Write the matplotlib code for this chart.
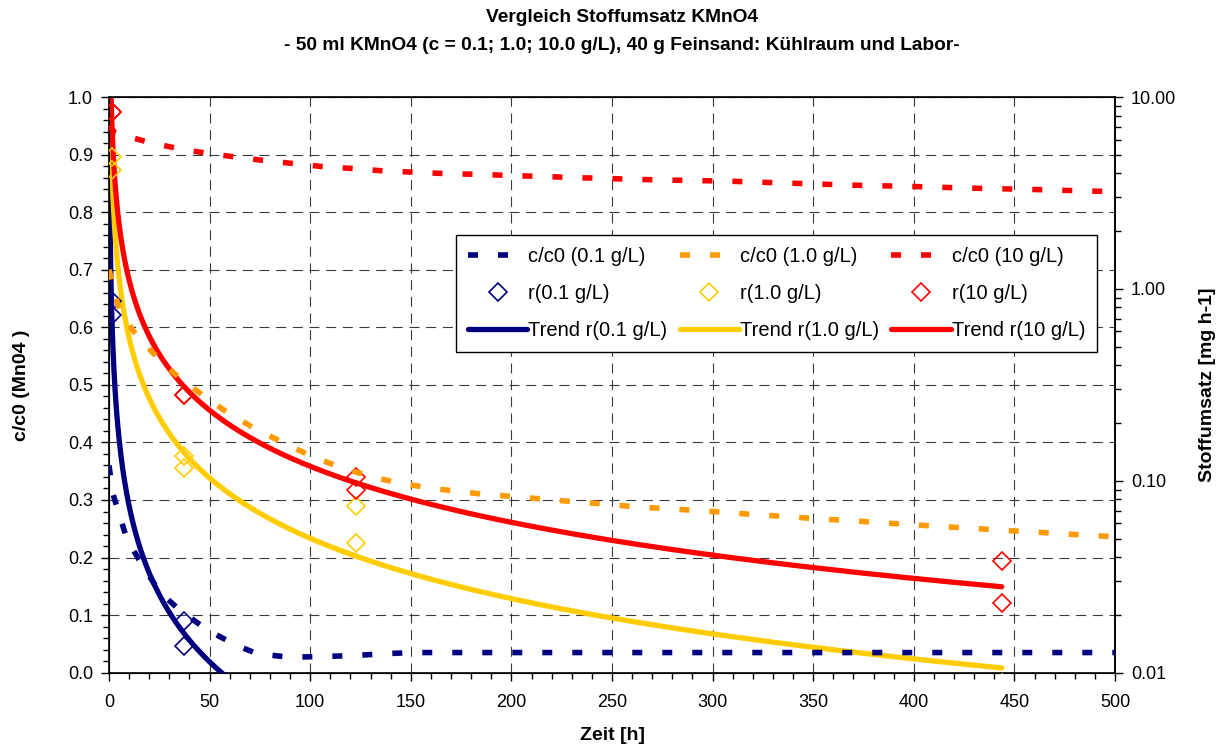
import numpy as np
import matplotlib
matplotlib.use("Agg")
import matplotlib.pyplot as plt
from matplotlib.ticker import MultipleLocator, LogLocator, FormatStrFormatter, NullFormatter

plt.rcParams['font.family'] = ['Liberation Sans', 'DejaVu Sans']

# ---------------- data ----------------
# relative concentration c/c0 over time (left axis)
t_c01 = [0, 2, 9, 17, 25, 35, 49, 63, 74, 90, 105, 120, 135, 150, 200, 300, 400, 500]
c_c01 = [0.36, 0.31, 0.231, 0.184, 0.141, 0.109, 0.074, 0.048, 0.0325, 0.027, 0.028,
         0.0295, 0.0325, 0.035, 0.035, 0.035, 0.035, 0.035]

t_c1 = [0, 4.6, 11.5, 22, 33, 45, 58, 72, 88, 102, 116, 131, 146, 166, 186, 201, 216,
        231, 246, 262, 277, 292, 307, 322, 337, 352, 368, 382, 398, 413, 428, 443, 458,
        474, 489, 500]
c_c1 = [0.70, 0.636, 0.596, 0.555, 0.518, 0.486, 0.454, 0.425, 0.397, 0.374, 0.3555,
        0.340, 0.328, 0.318, 0.310, 0.306, 0.3015, 0.297, 0.293, 0.288, 0.285, 0.2818,
        0.2783, 0.2743, 0.2713, 0.2673, 0.2643, 0.2609, 0.2574, 0.254, 0.2511, 0.2476,
        0.2447, 0.2412, 0.2383, 0.236]

t_c10 = [0, 3, 20, 35, 50, 75, 90, 105, 120, 135, 150, 168, 185, 201, 216, 231, 246,
         261, 277, 306, 337, 368, 398, 428, 458, 489, 500]
c_c10 = [0.95, 0.938, 0.921, 0.910, 0.9015, 0.8905, 0.885, 0.8795, 0.876, 0.872, 0.8696,
         0.8668, 0.8656, 0.8633, 0.862, 0.860, 0.8586, 0.857, 0.8557, 0.854, 0.8505,
         0.847, 0.8447, 0.8417, 0.8395, 0.8365, 0.8355]

# conversion rate r [mg/h] at the sampling times (right axis), Kühlraum / Labor
t_r = [1.3, 37.4, 122.8, 443.7]
r01_kuehl = [0.86, 0.0186, np.nan, np.nan]
r01_labor = [0.73, 0.0137, np.nan, np.nan]
r1_kuehl = [4.88, 0.135, 0.074, 0.0088]
r1_labor = [4.15, 0.116, 0.0475, 0.0080]
r10_kuehl = [8.4, 0.279, 0.105, 0.0383]
r10_labor = [8.4, 0.279, 0.090, 0.0232]

labels_conc = ['0.1 g/L', '1.0 g/L', '10 g/L']
col_c = ['#000080', '#FF9900', '#FF0000']
col_r = ['#000080', '#FFCC00', '#FF0000']

title1 = 'Vergleich Stoffumsatz KMnO4'
title2 = '- 50 ml KMnO4 (c = 0.1; 1.0; 10.0 g/L), 40 g Feinsand: Kühlraum und Labor-'


def power_trend(t, *reps):
    """Least-squares power law r = a * t^b (fitted in log-log space)."""
    x = np.concatenate([np.asarray(t, float)] * len(reps))
    y = np.concatenate([np.asarray(r, float) for r in reps])
    ok = np.isfinite(y) & (y > 0)
    b, ln_a = np.polyfit(np.log(x[ok]), np.log(y[ok]), 1)
    tt = np.geomspace(0.3, max(t), 500)
    return tt, np.exp(ln_a) * tt ** b


# ---------------- figure ----------------
W, H = 1228, 747
fig = plt.figure(figsize=(W / 100, H / 100), dpi=100)
L, R, T, B = 109, 1115, 97, 672.7
rect = [L / W, 1 - B / H, (R - L) / W, (B - T) / H]

ax = fig.add_axes(rect)          # left scale, grid
ax_r = ax.twinx()                # log scale for the rates
ax_c = ax.twinx()                # c/c0 curves drawn on top
for a in (ax_r, ax_c):
    a.patch.set_visible(False)

ax.set_xlim(0, 500)
ax.set_ylim(0, 1)
ax_c.set_ylim(0, 1)
ax_r.set_yscale('log')
ax_r.set_ylim(0.01, 10)

grid_ls = (0, (9, 6))
ax.grid(True, which='major', axis='both', color='#3a3a3a', linestyle=grid_ls, linewidth=0.8)
ax.set_axisbelow(True)

ax.xaxis.set_major_locator(MultipleLocator(50))
ax.xaxis.set_minor_locator(MultipleLocator(10))
ax.yaxis.set_major_locator(MultipleLocator(0.1))
ax.yaxis.set_minor_locator(MultipleLocator(0.02))
ax.yaxis.set_major_formatter(FormatStrFormatter('%.1f'))

ax_r.yaxis.set_major_locator(LogLocator(base=10))
ax_r.yaxis.set_minor_locator(LogLocator(base=10, subs=np.arange(2, 10)))
ax_r.yaxis.set_major_formatter(FormatStrFormatter('%.2f'))
ax_r.yaxis.set_minor_formatter(NullFormatter())

for a in (ax, ax_r):
    a.tick_params(which='major', direction='out', length=5.5, width=1, labelsize=13, pad=6)
    a.tick_params(which='minor', direction='out', length=4, width=1)
ax.tick_params(axis='x', which='major', pad=10)
for sp in ax.spines.values():
    sp.set_linewidth(1.2)
ax_r.spines['right'].set_linewidth(1.2)
ax_c.axis('off')

# trend lines and rate markers (right axis)
rate_sets = [(r01_kuehl, r01_labor), (r1_kuehl, r1_labor), (r10_kuehl, r10_labor)]
h_trend, h_rate = [], []
for (rk, rl), col, lab in zip(rate_sets, col_r, labels_conc):
    tt, rr = power_trend(t_r, rk, rl)
    h, = ax_r.plot(tt, rr, color=col, lw=3.8, solid_capstyle='round',
                   label='Trend r(%s)' % lab)
    h_trend.append(h)
for (rk, rl), col, lab in zip(rate_sets, col_r, labels_conc):
    h, = ax_r.plot(t_r, rk, linestyle='none', marker='D', ms=9.3, mfc='none',
                   mec=col, mew=1.2, label='r(%s)' % lab, zorder=4)
    ax_r.plot(t_r, rl, linestyle='none', marker='D', ms=9.3, mfc='none',
              mec=col, mew=1.2, zorder=4)
    h_rate.append(h)

# c/c0 curves (left scale)
h_c = []
for t, c, col, lab in zip([t_c01, t_c1, t_c10], [c_c01, c_c1, c_c10], col_c, labels_conc):
    h, = ax_c.plot(t, c, color=col, lw=4, linestyle=(0, (1.8, 3.6)),
                   dash_capstyle='butt', label='c/c0 (%s)' % lab)
    h_c.append(h)

handles = []
for i in range(3):
    handles += [h_c[i], h_rate[i], h_trend[i]]
leg = ax_c.legend(handles=handles, labels=[h.get_label() for h in handles], ncol=3,
                  loc='upper left', bbox_to_anchor=((456 - L) / (R - L), (B - 235) / (B - T)),
                  borderaxespad=0, fontsize=14.5, frameon=True, fancybox=False,
                  edgecolor='black', framealpha=1, handlelength=2.95, handletextpad=0.05,
                  columnspacing=0.6, labelspacing=0.9, borderpad=0.6, numpoints=1)
leg.get_frame().set_linewidth(1.0)
leg.set_zorder(10)

# labels and titles
ax.set_xlabel('Zeit [h]', fontsize=14, fontweight='bold')
ax.xaxis.set_label_coords(0.5, (B - 735.7) / (B - T))
ax.xaxis.label.set_verticalalignment('center')
ax.set_ylabel('c/c0 (Mn04 )', fontsize=14, fontweight='bold')
ax.yaxis.set_label_coords((22 - L) / (R - L), 0.5)
ax.yaxis.label.set_verticalalignment('center')
ax_r.set_ylabel('Stoffumsatz [mg h-1]', fontsize=14, fontweight='bold')
ax_r.yaxis.set_label_coords((1208 - L) / (R - L), 0.5)
ax_r.yaxis.label.set_verticalalignment('center')

fig.text(622 / W, 1 - 18 / H, title1, ha='center', va='center', fontsize=13.8, fontweight='bold')
fig.text(622 / W, 1 - 45 / H, title2, ha='center', va='center', fontsize=13.8, fontweight='bold')

fig.savefig('out.png', dpi=100)
